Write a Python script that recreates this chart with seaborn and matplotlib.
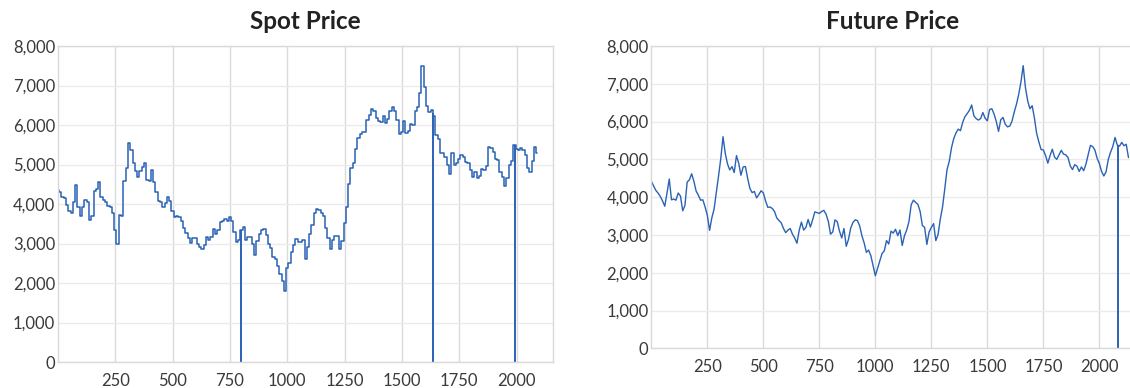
import numpy as np
import pandas as pd
import matplotlib
matplotlib.use("Agg")
import matplotlib.pyplot as plt
import seaborn as sns
from matplotlib.ticker import FuncFormatter

# Daily closing prices, one reading every 10 trading days
sample_step = 10

spot_price = [
    4350, 4300, 4180, 4150, 3980, 3820, 3760, 4050, 4480, 3930,
    3700, 3930, 4100, 4050, 3590, 3700, 4320, 4390, 4560, 4190,
    4100, 4060, 3950, 3920, 3780, 3340, 2990, 3710, 3700, 4570,
    4910, 5540, 5370, 5030, 4840, 4690, 4830, 4930, 5050, 4600,
    4590, 4860, 4550, 4310, 4080, 4040, 3920, 4020, 4170, 4080,
    3820, 3660, 3700, 3680, 3580, 3380, 3260, 3150, 3020, 3130,
    3140, 2990, 2910, 2850, 2950, 3160, 3100, 3170, 3360, 3250,
    3340, 3550, 3560, 3610, 3580, 3660, 3560, 3300, 3030, 3100,
    3330, 3410, 3100, 3170, 3160, 2980, 2700, 3060, 3240, 3350,
    3360, 3210, 2990, 2880, 2650, 2620, 2420, 2230, 2050, 1800,
    2380, 2500, 2780, 2950, 3120, 3050, 3050, 3100, 2620, 2900,
    3250, 3480, 3760, 3880, 3860, 3770, 3700, 3400, 3150, 2850,
    3100, 3180, 3200, 2860, 3060, 3520, 3930, 4500, 4920, 5050,
    5400, 5670, 5760, 5820, 5820, 6120, 6250, 6400, 6350, 6180,
    6110, 6070, 6240, 6050, 6160, 6350, 6450, 6350, 6120, 5760,
    5820, 6100, 5810, 5850, 6020, 6010, 6350, 6460, 6800, 7500,
    6950, 6480, 6320, 6390, 6220, 5740, 5650, 5300, 5290, 5180,
    5000, 4750, 5290, 5000, 5040, 5150, 5250, 5200, 5060, 5040,
    4860, 4680, 4820, 4650, 4720, 4880, 4870, 4950, 5450, 5420,
    5320, 5130, 5120, 4820, 4680, 4450, 4650, 5000, 5080, 5500,
    5400, 5380, 5420, 5380, 5250, 4900, 4800, 5100, 5450, 5290,
]

future_price = [
    4420, 4300, 4180, 4110, 4020, 3900, 3760, 4110, 4480, 3930,
    3950, 3920, 4110, 4030, 3640, 3780, 4400, 4460, 4620, 4420,
    4160, 4050, 3920, 3930, 3740, 3520, 3120, 3450, 3680, 4110,
    4560, 5020, 5600, 5160, 4880, 4720, 4810, 4650, 5100, 4900,
    4580, 4800, 4810, 4500, 4230, 4120, 4150, 3980, 4070, 4170,
    4110, 3900, 3730, 3740, 3700, 3620, 3450, 3380, 3320, 3170,
    3060, 3130, 3170, 3020, 2920, 2780, 3120, 3340, 3130, 3200,
    3410, 3210, 3400, 3610, 3590, 3570, 3620, 3650, 3550, 3360,
    3020, 3080, 3400, 3350, 3100, 2920, 3170, 2700, 2880, 3180,
    3330, 3400, 3380, 3240, 2980, 2790, 2540, 2600, 2450, 2190,
    1920, 2120, 2330, 2510, 2580, 2850, 2760, 3100, 3050, 3150,
    2980, 3130, 2720, 2980, 3130, 3350, 3800, 3920, 3860, 3810,
    3620, 3250, 3200, 2750, 3080, 3200, 3300, 2850, 3010, 3420,
    3740, 4220, 4730, 4950, 5310, 5550, 5700, 5800, 5760, 5980,
    6130, 6210, 6300, 6440, 6150, 6080, 6040, 6080, 6240, 6090,
    6020, 6320, 6340, 6200, 6000, 5740, 6050, 6110, 5930, 5860,
    5880, 6010, 6250, 6460, 6720, 7050, 7480, 6900, 6550, 6340,
    6420, 6100, 5690, 5460, 5260, 5250, 5100, 4900, 5100, 5270,
    5060, 5000, 5120, 5240, 5140, 5120, 5050, 4830, 4730, 4860,
    4820, 4680, 4800, 4700, 4870, 5120, 5370, 5340, 5250, 5030,
    4890, 4680, 4560, 4670, 5000, 5190, 5340, 5580, 5380, 5350,
    5450, 5360, 5400, 5050,
]

# Days where the feed printed a zero price
spot_zero_days = [800, 1635, 1991]
future_zero_days = [2083]

x_ticks = [250, 500, 750, 1000, 1250, 1500, 1750, 2000]
y_ticks = [0, 1000, 2000, 3000, 4000, 5000, 6000, 7000, 8000]

spot_df = pd.DataFrame({"day": np.arange(len(spot_price)) * sample_step,
                        "price": spot_price})
future_df = pd.DataFrame({"day": np.arange(len(future_price)) * sample_step,
                          "price": future_price})

sns.set_theme(style="white")
plt.rcParams["font.family"] = ["Lato", "DejaVu Sans"]

BLUE = "#2a62b5"
TEXT = "#3a3a3a"

fig = plt.figure(figsize=(11.3, 3.88), dpi=100)
ax_spot = fig.add_axes([0.0513, 0.067, 0.4378, 0.8144])
ax_fut = fig.add_axes([0.5764, 0.1023, 0.4276, 0.7791])

panels = [
    (ax_spot, spot_df, spot_zero_days, "Spot Price", "steps-mid", 1.1),
    (ax_fut, future_df, future_zero_days, "Future Price", "default", 1.0),
]

for ax, df, zero_days, title, dstyle, lw in panels:
    sns.lineplot(data=df, x="day", y="price", ax=ax, color=BLUE,
                 linewidth=lw, drawstyle=dstyle)
    tops = np.interp(zero_days, df["day"], df["price"])
    ax.vlines(zero_days, 0, tops, color=BLUE, linewidth=1.4)

    ax.set_xlim(0, 2157)
    ax.set_ylim(0, 8000)
    ax.set_xticks(x_ticks)
    ax.set_yticks(y_ticks)
    ax.yaxis.set_major_formatter(FuncFormatter(lambda v, p: f"{int(v):,}"))
    ax.set_xlabel("")
    ax.set_ylabel("")

    ax.set_axisbelow(True)
    ax.yaxis.grid(True, color="#ebebeb", linewidth=1.0)
    ax.xaxis.grid(True, color="#dadada", linewidth=1.0)
    for s in ax.spines.values():
        s.set_color("#d9d9d9")
        s.set_linewidth(1.0)

    ax.tick_params(axis="both", length=0, labelsize=12, labelcolor=TEXT)
    ax.tick_params(axis="x", pad=8)
    ax.tick_params(axis="y", pad=2)
    ax.set_title(title, fontsize=17.5, fontweight="bold", color="#222222", pad=12)

fig.savefig("out.png", dpi=100)
